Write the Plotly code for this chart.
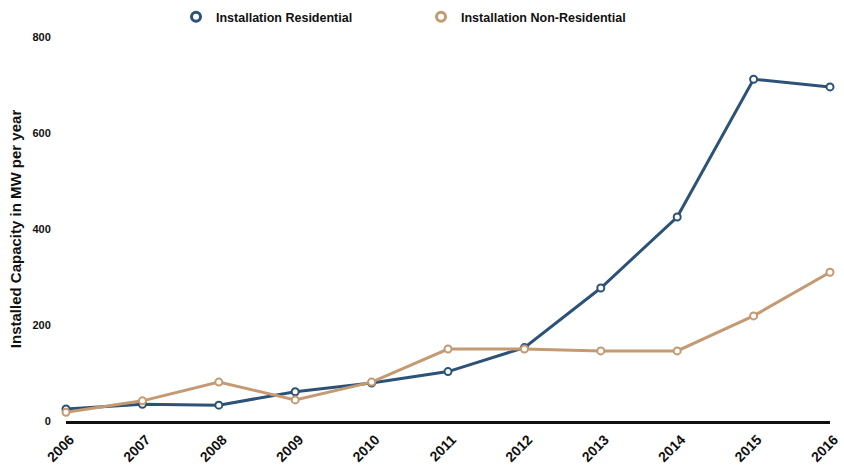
import plotly.graph_objects as go

years = [2006, 2007, 2008, 2009, 2010, 2011, 2012, 2013, 2014, 2015, 2016]
residential = [25, 35, 33, 61, 79, 103, 153, 277, 425, 712, 696]
non_residential = [18, 42, 81, 44, 81, 150, 150, 146, 146, 219, 310]
y_ticks = [0, 200, 400, 600, 800]
series_names = ["Installation Residential", "Installation Non-Residential"]

blue = "#2c5277"
tan = "#c39a72"
font = "Liberation Sans"

fig = go.Figure()
for name, vals, col in [(series_names[0], residential, blue), (series_names[1], non_residential, tan)]:
    fig.add_trace(go.Scatter(
        x=years, y=vals, name=name, mode="lines+markers", showlegend=False,
        line=dict(color=col, width=3),
        marker=dict(symbol="circle", size=7, color="white", line=dict(color=col, width=2)),
        cliponaxis=False,
    ))
for name, col in [(series_names[0], blue), (series_names[1], tan)]:
    fig.add_trace(go.Scatter(
        x=[None], y=[None], name=f"<b>{name}</b>", mode="markers",
        marker=dict(symbol="circle", size=9, color="white", line=dict(color=col, width=3)),
    ))

fig.update_layout(
    width=844, height=468,
    margin=dict(l=66, r=14, t=37, b=47, autoexpand=False),
    paper_bgcolor="white", plot_bgcolor="white",
    font=dict(family=font, color="#111111", size=11),
    legend=dict(orientation="h", x=0.144, xanchor="left", y=1.052, yanchor="middle",
                font=dict(family=font, size=12.5, color="#111111"),
                itemwidth=30, tracegroupgap=0, entrywidth=200, entrywidthmode="pixels"),
    xaxis=dict(
        range=[2006, 2016], tickmode="array", tickvals=years,
        ticktext=[f"<b>{y}</b>" for y in years], tickangle=-45,
        showgrid=False, zeroline=False, showline=True, linecolor="#111111", linewidth=3,
        ticks="", ticklabelshift=4, ticklabelstandoff=2, ticklabeloverflow="allow",
        tickfont=dict(family=font, size=14, color="#111111"), automargin=False,
    ),
    yaxis=dict(
        range=[0, 800], tickmode="array", tickvals=y_ticks,
        ticktext=[f"<b>{v}</b>" for v in y_ticks],
        showgrid=False, zeroline=False, showline=False,
        ticks="outside", ticklen=12, tickcolor="white",
        tickfont=dict(family=font, size=11, color="#111111"),
        title=dict(text="<b>Installed Capacity in MW per year</b>", font=dict(family=font, size=15, color="#111111"), standoff=7),
        automargin=False,
    ),
)

fig.write_html("out.html", config={"displayModeBar": False},
               post_script="document.body.style.margin='0';")
